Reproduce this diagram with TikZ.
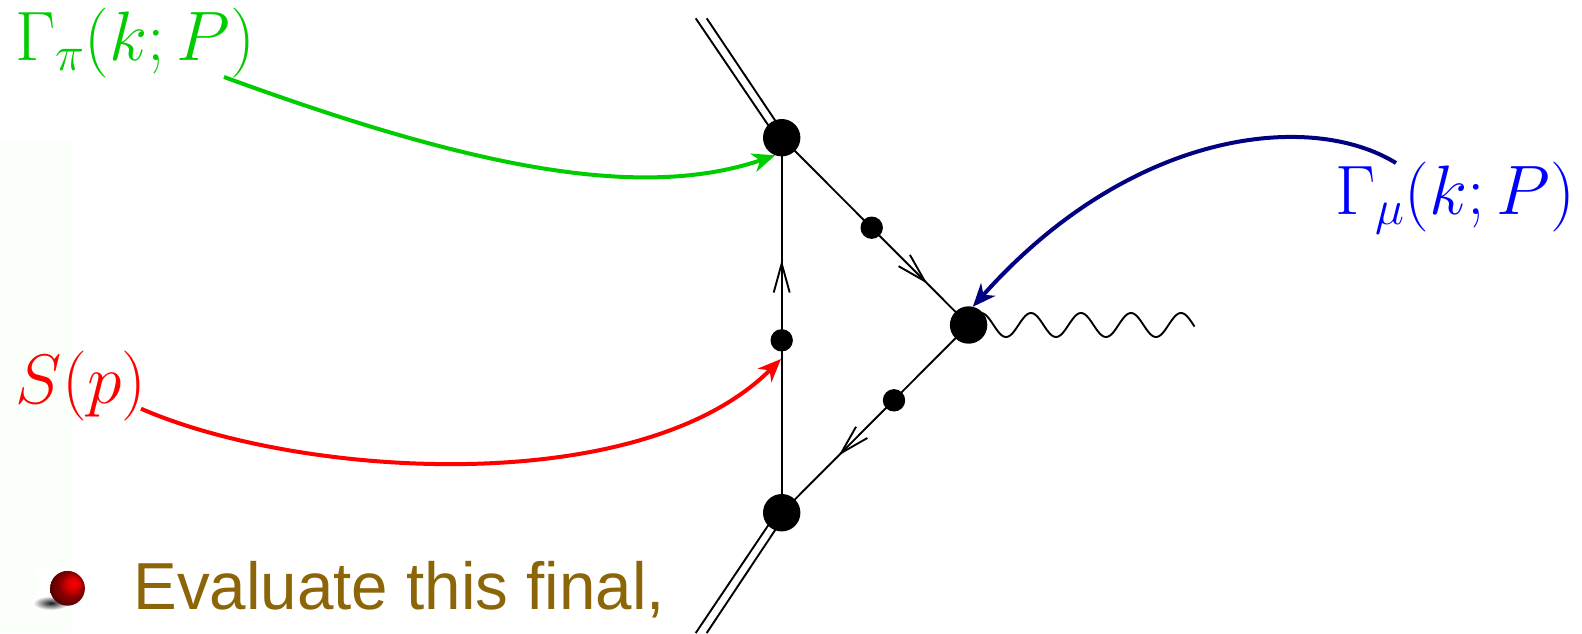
\documentclass[tikz,border=0pt]{standalone}
\usepackage{fix-cm}
\usepackage{fontspec}
\newfontfamily\brownfont{Liberation Sans}
\usetikzlibrary{arrows.meta,decorations.markings,shapes.geometric}
\DeclareMathSizes{70}{70}{49}{35}
\definecolor{lblgreen}{RGB}{0,204,0}
\definecolor{lblbrown}{RGB}{139,101,8}
\definecolor{paletint}{RGB}{250,255,250}
\definecolor{arrnavy}{RGB}{0,0,128}
\pgfdeclareradialshading{redball}{\pgfpoint{0.35cm}{0.3cm}}{%
  color(0cm)=(red!100!black);color(0.3cm)=(red!85!black);color(0.6cm)=(red!55!black);color(0.95cm)=(red!35!black);color(1.4cm)=(red!25!black)}
\tikzset{
  bigdot/.style={circle,fill=black,inner sep=0pt,outer sep=0pt,minimum size=37.4pt},
  smalldot/.style={circle,fill=black,inner sep=0pt,outer sep=0pt,minimum size=22.4pt},
  fline/.style={line width=1.9pt,black},
  barb/.style={decoration={markings,mark=at position #1 with {\arrow{Straight Barb[length=29pt,width=16pt,line width=1.9pt]}}},postaction={decorate}},
  mathlabel/.style={anchor=base west,inner sep=0pt,outer sep=0pt,font=\fontsize{70}{74}\selectfont},
  callout/.style={line width=4pt,-{Stealth[length=23pt,width=19pt,inset=7pt]}},
}
\begin{document}
\begin{tikzpicture}[x=1pt,y=-1pt]
\useasboundingbox (0,0) rectangle (1582,633);
\fill[paletint] (0,140) rectangle (72,633);
\fill[white] (37,567) rectangle (99,609);
% bullet
\shade[inner color=black!90,middle color=black!70,outer color=white] (51,603) ellipse (18 and 7);
\shade[shading=redball] (67.5,588.3) circle (17.4);
% vertices
\node[bigdot] (vt) at (781.7,137.7) {};
\node[bigdot] (vb) at (781.7,512.7) {};
\node[bigdot] (vr) at (968.6,325) {};
\node[smalldot] (st) at (871.7,227.7) {};
\node[smalldot] (sb) at (894,400.3) {};
\node[smalldot] (sl) at (781.7,340.3) {};
% free ends
\coordinate (dtl) at (695.7,18.3);
\coordinate (dtr) at (706.7,18.3);
\coordinate (dbl) at (695.7,633);
\coordinate (dbr) at (706.7,633);
\coordinate (gs) at (224,77);
\coordinate (rs) at (141,408.7);
\coordinate (bs) at (1396,163);
\coordinate (rt) at (781,359);
% labels
\node[mathlabel,text=lblgreen] (lg) at (15,60) {$\Gamma_\pi(k;P)$};
\node[mathlabel,text=red] (lr) at (16,403.3) {$S(p)$};
\node[mathlabel,text=blue] (lb) at (1335,214.3) {$\Gamma_\mu(k;P)$};
\node[anchor=base west,inner sep=0pt,outer sep=0pt,xscale=0.985,text=lblbrown,font=\brownfont\fontsize{66.5}{70}\selectfont] (ev) at (133.5,609.3) {Evaluate this final,};
% lines
\draw[fline] (dtl) -- ([xshift=-5pt]vt.center);
\draw[fline] (dtr) -- ([xshift=5pt]vt.center);
\draw[fline] (dbl) -- ([xshift=-5pt]vb.center);
\draw[fline] (dbr) -- ([xshift=5pt]vb.center);
\draw[fline,barb=0.674] (vb.center) -- (vt.center);
\draw[fline,barb=0.779] (vt.center) -- (vr.center);
\draw[fline,barb=0.695] (vr.center) -- (vb.center);
\draw[fline,shift={(vr.center)},line join=round] plot[domain=12.4:225.9,samples=140,smooth] (\x,{-12*cos(7.2*(\x-12.4))});
% callouts
\draw[callout,lblgreen] (gs) .. controls (460,163) and (635,203) .. (vt.-110);
\draw[callout,red] (rs) .. controls (300,478) and (640,500) .. (rt);
\draw[callout,arrnavy] (bs) .. controls (1310,110) and (1130,130) .. (vr.77);
\end{tikzpicture}
\end{document}
